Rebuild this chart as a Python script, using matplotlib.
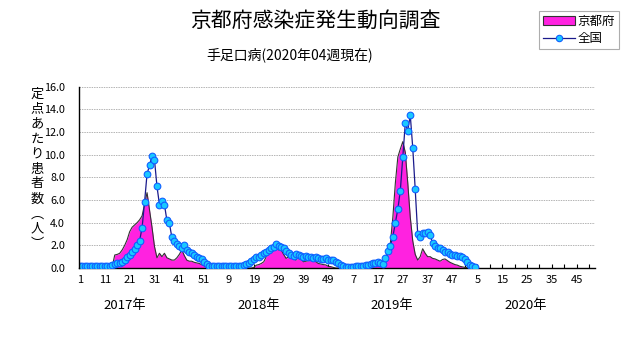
import matplotlib
matplotlib.use("Agg")
import matplotlib.pyplot as plt
from matplotlib.patches import Patch
from matplotlib.lines import Line2D
import numpy as np

plt.rcParams['font.family'] = ['Noto Sans CJK JP', 'DejaVu Sans']

# 定点あたり患者数 (週ごと)
zenkoku_2017 = [0.2, 0.2, 0.18, 0.18, 0.17, 0.17, 0.16, 0.16, 0.16, 0.17, 0.17, 0.18, 0.2,
                0.25, 0.33, 0.42, 0.47, 0.53, 0.71, 0.94, 1.18, 1.45, 1.71, 2.04, 2.4, 3.55,
                5.8, 8.3, 9.05, 9.9, 9.55, 7.2, 5.6, 5.95, 5.6, 4.2, 3.95, 2.7, 2.35, 2.15,
                1.95, 1.75, 2.05, 1.6, 1.42, 1.3, 1.15, 1.0, 0.86, 0.8, 0.56, 0.39]
zenkoku_2018 = [0.22, 0.2, 0.18, 0.15, 0.15, 0.14, 0.14, 0.15, 0.14, 0.15, 0.16, 0.18, 0.2,
                0.22, 0.26, 0.35, 0.47, 0.62, 0.79, 0.94, 1.0, 1.15, 1.3, 1.44, 1.59, 1.74,
                1.88, 2.09, 1.97, 1.82, 1.74, 1.5, 1.3, 1.15, 1.09, 1.21, 1.15, 1.09, 1.0,
                1.09, 1.0, 0.94, 0.91, 1.0, 0.85, 0.79, 0.76, 0.85, 0.73, 0.7, 0.7, 0.5]
zenkoku_2019 = [0.4, 0.25, 0.16, 0.13, 0.12, 0.12, 0.13, 0.14, 0.15, 0.17, 0.2, 0.25, 0.3,
                0.35, 0.42, 0.48, 0.56, 0.41, 0.35, 0.91, 1.53, 1.97, 2.77, 4.0, 5.2, 6.83,
                9.83, 12.77, 12.12, 13.5, 10.62, 6.94, 3.0, 2.76, 3.06, 3.12, 3.21, 2.88, 2.2,
                1.91, 1.76, 1.79, 1.62, 1.44, 1.38, 1.26, 1.18, 1.12, 1.03, 1.03, 0.94, 0.79]
zenkoku_2020 = [0.56, 0.27, 0.21, 0.12]

kyoto_2017 = [0.0, 0.0, 0.05, 0.0, 0.0, 0.05, 0.0, 0.0, 0.0, 0.05, 0.0, 0.05, 0.1,
              0.15, 1.15, 1.2, 1.3, 1.6, 2.0, 2.5, 3.2, 3.6, 3.8, 4.0, 4.25, 4.6,
              5.6, 6.65, 5.1, 3.6, 1.9, 0.9, 1.3, 1.0, 1.3, 0.9, 0.8, 0.7, 0.7, 0.9,
              1.2, 1.6, 1.1, 0.7, 0.6, 0.6, 0.5, 0.45, 0.4, 0.3, 0.2, 0.1]
kyoto_2018 = [0.0, 0.0, 0.0, 0.0, 0.0, 0.0, 0.0, 0.0, 0.0, 0.0, 0.0, 0.0, 0.0,
              0.0, 0.0, 0.0, 0.0, 0.0, 0.05, 0.25, 0.3, 0.4, 0.55, 1.0, 1.3, 1.6,
              1.85, 1.7, 1.6, 1.6, 1.2, 0.85, 1.0, 1.15, 0.8, 0.7, 1.0, 0.8, 0.55,
              0.6, 0.65, 0.7, 0.75, 0.55, 0.4, 0.35, 0.3, 0.27, 0.15, 0.12, 0.05, 0.0]
kyoto_2019 = [0.0, 0.0, 0.0, 0.0, 0.0, 0.0, 0.0, 0.0, 0.0, 0.0, 0.0, 0.0, 0.05,
              0.1, 0.1, 0.15, 0.2, 0.3, 0.4, 0.7, 1.2, 2.2, 4.5, 7.5, 9.8, 10.5,
              11.15, 10.2, 7.5, 4.5, 2.4, 1.2, 0.7, 1.0, 1.7, 1.3, 1.0, 1.0, 0.85,
              0.8, 0.7, 0.6, 0.75, 0.8, 0.65, 0.5, 0.4, 0.3, 0.25, 0.15, 0.1, 0.05]
kyoto_2020 = [0.05, 0.0, 0.0, 0.0]

week_labels = ["1", "11", "21", "31", "41", "51", "9", "19", "29", "39", "49",
               "7", "17", "27", "37", "47", "5", "15", "25", "35", "45"]
years = ["2017年", "2018年", "2019年", "2020年"]
y_ticks = [0, 2, 4, 6, 8, 10, 12, 14, 16]

zenkoku = np.array(zenkoku_2017 + zenkoku_2018 + zenkoku_2019 + zenkoku_2020)
kyoto = np.array(kyoto_2017 + kyoto_2018 + kyoto_2019 + kyoto_2020)
x = np.arange(len(zenkoku))

fig = plt.figure(figsize=(6.31, 3.47), dpi=100)
ax = fig.add_axes([79 / 631, 79 / 347, 516 / 631, 181.3 / 347])

ax.fill_between(x, kyoto, 0, color="#ff22e0", lw=0, zorder=2)
ax.plot(x, kyoto, color="#333333", lw=0.8, zorder=3)
ax.plot(x, zenkoku, color="#1a1a8c", lw=0.9, marker="o", ms=4.8,
        mfc="#19c8ff", mec="#1060ff", mew=0.8, zorder=4)

ax.set_xlim(-0.4, 207.4)
ax.set_ylim(0, 16)
ax.set_yticks(y_ticks)
ax.set_yticklabels([f"{v:.1f}" for v in y_ticks], fontsize=7.8)
ax.tick_params(axis="y", length=0, pad=10)

ticks = list(range(0, 208, 5))
labels = [week_labels[t // 10] if t % 10 == 0 else "" for t in ticks]
ax.set_xticks(ticks)
ax.set_xticklabels(labels, fontsize=8)
ax.tick_params(axis="x", direction="in", length=3, width=0.8, pad=5)

ax.grid(axis="y", color="#b4b4b4", linestyle=(0, (1.5, 1)), lw=0.7, zorder=1)
for s in ["top", "right"]:
    ax.spines[s].set_visible(False)
ax.spines["left"].set_linewidth(1.0)
ax.spines["bottom"].set_linewidth(1.0)
ax.spines["left"].set_zorder(5)

for i, name in enumerate(years):
    fig.text((125 + 133.5 * i) / 631, 1 - 305 / 347, name, fontsize=9.5,
             ha="center", va="center")

fig.text(0.499, 1 - 21 / 347, "京都府感染症発生動向調査", fontsize=15,
         ha="center", va="center")
fig.text(290 / 631, 1 - 55 / 347, "手足口病(2020年04週現在)", fontsize=10,
         ha="center", va="center")

ylabel = "\n".join(list("定点あたり患者数") + ["︵", "人", "︶"])
fig.text(37 / 631, 1 - 169 / 347, ylabel, fontsize=9.5, ha="center", va="center",
         linespacing=1.2)

handles = [Patch(facecolor="#ff22e0", edgecolor="#333333", lw=0.8),
           Line2D([], [], color="#1a1a8c", lw=0.9, marker="o", ms=4.6,
                  mfc="#19c8ff", mec="#1060ff", mew=0.8)]
leg = fig.legend(handles, ["京都府", "全国"], loc="upper right",
                 bbox_to_anchor=(619 / 631, 1 - 11 / 347), fontsize=9,
                 fancybox=False, edgecolor="#999999", handlelength=2.6,
                 handletextpad=0.2, borderpad=0.3, labelspacing=0.35,
                 borderaxespad=0)
leg.get_frame().set_linewidth(0.8)

fig.savefig("out.png", dpi=100)
